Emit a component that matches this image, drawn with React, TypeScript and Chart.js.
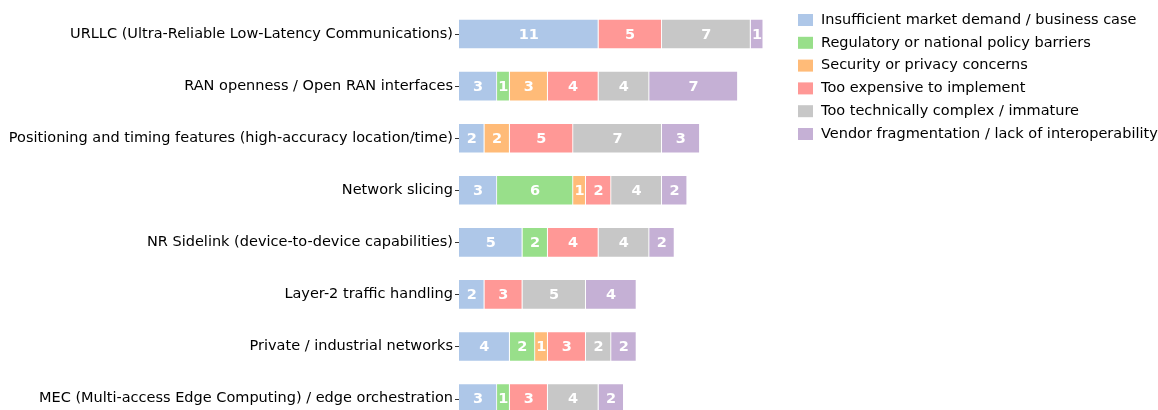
import React, { useEffect, useRef } from "react";
import { Chart, registerables } from "chart.js";

Chart.register(...registerables);

const categories = [
  "URLLC (Ultra-Reliable Low-Latency Communications)",
  "RAN openness / Open RAN interfaces",
  "Positioning and timing features (high-accuracy location/time)",
  "Network slicing",
  "NR Sidelink (device-to-device capabilities)",
  "Layer-2 traffic handling",
  "Private / industrial networks",
  "MEC (Multi-access Edge Computing) / edge orchestration",
];

const seriesNames = [
  "Insufficient market demand / business case",
  "Regulatory or national policy barriers",
  "Security or privacy concerns",
  "Too expensive to implement",
  "Too technically complex / immature",
  "Vendor fragmentation / lack of interoperability",
];

const insufficientDemand = [11, 3, 2, 3, 5, 2, 4, 3];
const regulatoryBarriers = [0, 1, 0, 6, 2, 0, 2, 1];
const securityConcerns = [0, 3, 2, 1, 0, 0, 1, 0];
const tooExpensive = [5, 4, 5, 2, 4, 3, 3, 3];
const tooComplex = [7, 4, 7, 4, 4, 5, 2, 4];
const vendorFragmentation = [1, 7, 3, 2, 2, 4, 2, 2];

const seriesColors = ["#aec7e8", "#98df8a", "#ffbb78", "#ff9896", "#c7c7c7", "#c5b0d5"];

const FONT = "'DejaVu Sans', sans-serif";

const labelPlugin = {
  id: "segLabels",
  afterDatasetsDraw(chart: any) {
    const ctx = chart.ctx;
    ctx.save();
    ctx.font = `bold 14.5px ${FONT}`;
    ctx.fillStyle = "#ffffff";
    ctx.textAlign = "center";
    ctx.textBaseline = "middle";
    chart.data.datasets.forEach((ds: any, di: number) => {
      const meta = chart.getDatasetMeta(di);
      meta.data.forEach((el: any, i: number) => {
        const v = ds.data[i];
        if (!v) return;
        const p = el.getProps(["x", "base", "y"], true);
        ctx.fillText(String(v), (p.x + p.base) / 2, p.y + 1);
      });
    });
    ctx.restore();
  },
};

const tickPlugin = {
  id: "tickMarks",
  afterDraw(chart: any) {
    const ctx = chart.ctx;
    const yScale = chart.scales.y;
    const left = chart.chartArea.left;
    ctx.save();
    ctx.strokeStyle = "#333333";
    ctx.lineWidth = 1;
    yScale.ticks.forEach((_t: any, i: number) => {
      const y = Math.round(yScale.getPixelForTick(i)) + 0.5;
      ctx.beginPath();
      ctx.moveTo(left - 4, y);
      ctx.lineTo(left, y);
      ctx.stroke();
    });
    ctx.restore();
  },
};

const legendPlugin = {
  id: "customLegend",
  afterDraw(chart: any) {
    const ctx = chart.ctx;
    ctx.save();
    ctx.font = `14.5px ${FONT}`;
    ctx.textAlign = "left";
    ctx.textBaseline = "middle";
    chart.data.datasets.forEach((ds: any, i: number) => {
      const cy = 20 + i * 22.8;
      ctx.fillStyle = ds.backgroundColor;
      ctx.fillRect(798, cy - 6, 15, 12);
      ctx.fillStyle = "#000000";
      ctx.fillText(ds.label, 821, cy);
    });
    ctx.restore();
  },
};

export default function App() {
  const ref = useRef<HTMLCanvasElement | null>(null);

  useEffect(() => {
    if (!ref.current) return;
    const values = [
      insufficientDemand,
      regulatoryBarriers,
      securityConcerns,
      tooExpensive,
      tooComplex,
      vendorFragmentation,
    ];
    const chart = new Chart(ref.current, {
      type: "bar",
      data: {
        labels: categories,
        datasets: seriesNames.map((name, i) => ({
          label: name,
          data: values[i],
          backgroundColor: seriesColors[i],
          borderColor: "#ffffff",
          borderWidth: 0.8,
          categoryPercentage: 1,
          barPercentage: 0.58,
        })),
      },
      options: {
        indexAxis: "y",
        animation: false,
        responsive: false,
        devicePixelRatio: 1,
        layout: { padding: { top: 8, bottom: 8.4, left: 0, right: 379.5 } },
        plugins: {
          legend: { display: false },
          tooltip: { enabled: false },
        },
        scales: {
          x: {
            stacked: true,
            display: false,
            min: 0,
            max: 25.2,
          },
          y: {
            stacked: true,
            border: { display: false },
            grid: { display: false, drawTicks: false },
            ticks: {
              color: "#000000",
              padding: 6,
              font: { family: FONT, size: 14.5 },
            },
            afterFit(scale: any) {
              scale.width = 459;
              scale.paddingTop = 0;
              scale.paddingBottom = 0;
            },
          },
        },
      },
      plugins: [labelPlugin, tickPlugin, legendPlugin],
    } as any);
    return () => chart.destroy();
  }, []);

  return (
    <div style={{ position: "absolute", left: 0, top: 0, width: 1158, height: 433, background: "#fff" }}>
      <canvas ref={ref} width={1158} height={433} style={{ width: 1158, height: 433 }} />
    </div>
  );
}
